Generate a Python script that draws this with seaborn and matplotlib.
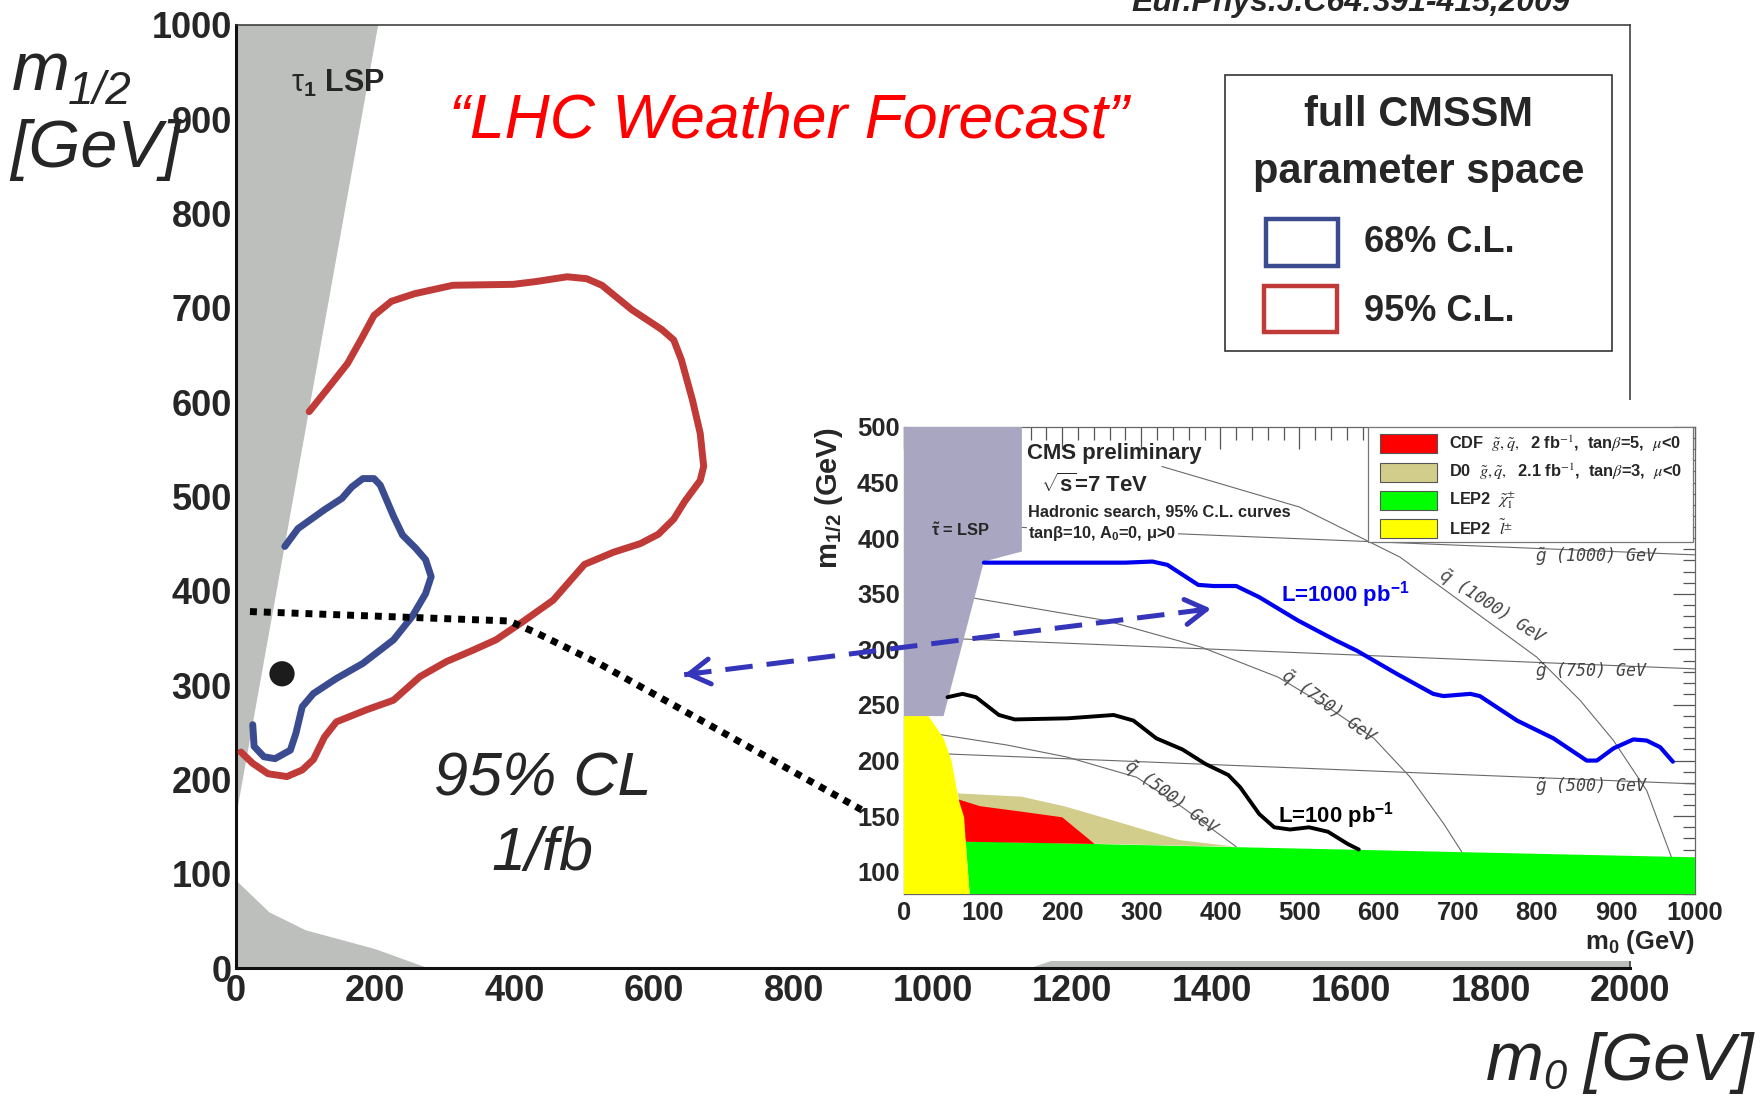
import matplotlib
matplotlib.use("Agg")
import matplotlib.pyplot as plt
import seaborn as sns
from matplotlib import font_manager as fm
from matplotlib.patches import Rectangle, FancyArrowPatch
from matplotlib.lines import Line2D
from matplotlib.ticker import MultipleLocator

# ================= DATA =================
# ---- main plot: (m0, m1/2) in GeV ----
main_xticks = [0, 200, 400, 600, 800, 1000, 1200, 1400, 1600, 1800, 2000]
main_yticks = [0, 100, 200, 300, 400, 500, 600, 700, 800, 900, 1000]

cl95_m0 = [7, 24, 46, 73, 95, 111, 127, 144, 188, 226, 264, 302, 340, 373, 411, 455,
           500, 542, 580, 606, 628, 644, 666, 671, 666, 655, 639, 628, 611, 568, 525,
           503, 475, 431, 398, 311, 256, 223, 198, 179, 160, 130, 105]
cl95_m12 = [229, 217, 206, 203, 210, 221, 245, 261, 274, 284, 309, 325, 337, 348, 367, 390,
            428, 441, 450, 460, 476, 495, 517, 532, 567, 602, 645, 666, 677, 698, 724,
            731, 733, 728, 725, 724, 715, 707, 692, 666, 641, 613, 590]

cl68_m0 = [24, 26, 40, 56, 78, 86, 95, 111, 144, 182, 226, 253, 272, 280, 272, 258,
           239, 226, 207, 198, 182, 166, 152, 127, 89, 70]
cl68_m12 = [258, 235, 224, 222, 231, 249, 277, 291, 307, 323, 348, 373, 397, 415, 433, 445,
            459, 479, 512, 519, 519, 510, 498, 486, 466, 447]

stau_m0 = [0, 204, 0]
stau_m12 = [160, 1000, 1000]
noewsb_m0 = [0, 0, 48, 100, 200, 275]
noewsb_m12 = [0, 93, 59, 40, 20, 0]
noewsb2_m0 = [1140, 1200, 2000, 2000]
noewsb2_m12 = [0, 15, 15, 0]

bestfit_m0 = [66]
bestfit_m12 = [312]

link_m0 = [20, 392, 432, 523, 897]
link_m12 = [378, 368, 355, 322, 168]
arrow_m0 = [643, 1399]
arrow_m12 = [311, 381]

main_legend_labels = ["68% C.L.", "95% C.L."]

# ---- inset (CMS 7 TeV reach) ----
inset_xticks = [0, 100, 200, 300, 400, 500, 600, 700, 800, 900, 1000]
inset_yticks = [100, 150, 200, 250, 300, 350, 400, 450, 500]

in_stau_m0 = [0, 149, 149, 101, 50, 0]
in_stau_m12 = [500, 500, 388, 379, 240, 240]
slep_m0 = [0, 0, 31, 50, 60, 69, 76, 78, 83]
slep_m12 = [80, 240, 240, 220, 200, 165, 149, 127, 80]
cha_m0 = [78, 1000, 1000, 83]
cha_m12 = [127.5, 113, 80, 80]
cdf_m0 = [69, 96, 149, 200, 241, 78]
cdf_m12 = [165, 159, 154, 149, 125, 127]
d0_m0 = [68, 149, 202, 241, 348, 420, 78]
d0_m12 = [170.5, 167.5, 159, 151, 128.5, 122.5, 127.5]

L1000_m0 = [101, 180, 280, 314, 333, 372, 391, 420, 449, 498, 546, 572, 623, 669, 682,
            716, 728, 775, 821, 863, 876, 897, 922, 939, 956, 972]
L1000_m12 = [378, 378, 378, 379, 376, 358, 357, 357, 347, 326, 308, 299, 278, 260, 258,
             260, 258, 236, 220, 200, 200, 211, 219, 218, 212, 199]
L100_m0 = [55, 74, 91, 120, 140, 207, 265, 290, 319, 352, 381, 410, 425, 449, 468, 488,
           512, 536, 561, 575]
L100_m12 = [257, 260, 257, 241, 237, 238, 241, 236, 220, 210, 197, 187, 176, 152, 140, 138,
            140, 136, 125, 120]

gl500_m0, gl500_m12 = [0, 1000], [207.5, 179]
gl750_m0, gl750_m12 = [0, 1000], [311.5, 282.5]
gl1000_m0, gl1000_m12 = [0, 1000], [414, 385]
sq500_m0 = [40, 130, 207, 294, 352, 420]
sq500_m12 = [224, 214, 203, 185, 158, 122.5]
sq750_m0 = [89, 255, 376, 473, 536, 594, 640, 682, 705]
sq750_m12 = [346, 326, 302, 275, 248, 220, 185, 143.5, 118]
sq1000_m0 = [326, 500, 627, 800, 855, 897, 939, 970]
sq1000_m12 = [464.5, 428, 383, 293, 254, 218, 173, 113.5]

inset_legend_labels = [
    r"CDF  $\tilde{g},\tilde{q},$  2 fb$^{-1}$,  tan$\beta$=5,  $\mu$<0",
    r"D0  $\tilde{g},\tilde{q},$  2.1 fb$^{-1}$,  tan$\beta$=3,  $\mu$<0",
    r"LEP2  $\tilde{\chi}^{\pm}_{1}$",
    r"LEP2  $\tilde{l}^{\pm}$",
]

# ================= STYLE =================
sns.set_theme(style="white")
avail = {f.name for f in fm.fontManager.ttflist}
SANS = "Liberation Sans"
NARROW = "Liberation Sans Narrow" if "Liberation Sans Narrow" in avail else SANS
NK = 1.0 if NARROW != SANS else 0.84
plt.rcParams.update({
    "font.family": [SANS, "DejaVu Sans"],
    "mathtext.fontset": "custom",
    "mathtext.rm": SANS,
    "mathtext.it": SANS + ":italic",
    "mathtext.bf": SANS + ":bold",
    "axes.unicode_minus": False,
})

GRAY = "#bdbfbc"
RED95 = "#c03a38"
BLUE68 = "#3a4c8f"
PURPLE = "#a8a6c0"
ARROW = "#3535bb"
LINEG = "#6a6a6a"

W, H = 1765, 1097
fig = plt.figure(figsize=(W / 100, H / 100), dpi=100, facecolor="white")


def fbox(x0, y0, x1, y1):
    return [x0 / W, 1 - y1 / H, (x1 - x0) / W, (y1 - y0) / H]


# ================= MAIN AXES =================
ax = fig.add_axes(fbox(236, 25, 1630, 968), zorder=0)
ax.set_facecolor("white")
ax.set_xlim(0, 2000)
ax.set_ylim(0, 1000)
ax.set_axisbelow(False)

ax.fill(stau_m0, stau_m12, color=GRAY, lw=0, zorder=1)
ax.fill(noewsb_m0, noewsb_m12, color=GRAY, lw=0, zorder=1)
ax.fill(noewsb2_m0, noewsb2_m12, color=GRAY, lw=0, zorder=1)

sns.lineplot(x=cl95_m0, y=cl95_m12, sort=False, estimator=None, color=RED95,
             lw=5, ax=ax, zorder=3, solid_capstyle="round", solid_joinstyle="round")
sns.lineplot(x=cl68_m0, y=cl68_m12, sort=False, estimator=None, color=BLUE68,
             lw=5, ax=ax, zorder=3, solid_capstyle="round", solid_joinstyle="round")
sns.scatterplot(x=bestfit_m0, y=bestfit_m12, s=330, color="#1c1c1c", edgecolor="none",
                ax=ax, zorder=4)

ax.set_xticks(main_xticks)
ax.set_xticklabels([str(v) for v in main_xticks])
ax.set_yticks(main_yticks)
ax.set_yticklabels([str(v) for v in main_yticks])
ax.xaxis.set_minor_locator(MultipleLocator(50))
ax.yaxis.set_minor_locator(MultipleLocator(20))
ax.tick_params(which="both", direction="in", top=False, right=False, color="#222", width=1.6)
ax.tick_params(axis="x", which="major", length=20, pad=4, labelsize=26)
ax.tick_params(axis="x", which="minor", length=10)
ax.tick_params(axis="y", which="major", length=30, pad=3, labelsize=26)
ax.tick_params(axis="y", which="minor", length=15)
for lab in ax.get_xticklabels() + ax.get_yticklabels():
    lab.set_fontweight("bold")
for s in ["left", "bottom"]:
    ax.spines[s].set_linewidth(2.2)
    ax.spines[s].set_color("#111")
for s in ["top", "right"]:
    ax.spines[s].set_linewidth(1.1)
    ax.spines[s].set_color("#333")
ax.set_xlabel("")
ax.set_ylabel("")

ax.text(79, 929, r"$\mathrm{\tau}_{\mathbf{1}}$ LSP", fontsize=22, fontweight="bold",
        va="baseline", ha="left", zorder=5)
ax.text(306, 881, "\u201cLHC Weather Forecast\u201d", color="#ff0000", fontsize=45,
        style="italic", va="baseline", ha="left", zorder=5)
ax.text(440, 183, "95% CL", fontsize=44, style="italic", ha="center", va="baseline", zorder=5)
ax.text(440, 104, "1/fb", fontsize=44, style="italic", ha="center", va="baseline", zorder=5)

# main legend box
tA = ax.transAxes
ax.add_patch(Rectangle((0.7095, 0.654), 0.2775, 0.293, transform=tA, facecolor="white",
                       edgecolor="#333", lw=1.2, zorder=6))
ax.text(0.8483, 0.9046, "full CMSSM", transform=tA, fontsize=30, fontweight="bold",
        ha="center", va="center", zorder=7)
ax.text(0.8483, 0.8444, "parameter space", transform=tA, fontsize=30, fontweight="bold",
        ha="center", va="center", zorder=7)
ax.add_patch(Rectangle((0.7389, 0.7444), 0.0516, 0.0499, transform=tA, facecolor="white",
                       edgecolor=BLUE68, lw=3.2, zorder=7))
ax.add_patch(Rectangle((0.7375, 0.6744), 0.0523, 0.0488, transform=tA, facecolor="white",
                       edgecolor=RED95, lw=3.2, zorder=7))
ax.text(0.809, 0.7696, main_legend_labels[0], transform=tA, fontsize=26, fontweight="bold",
        ha="left", va="center", zorder=7)
ax.text(0.809, 0.696, main_legend_labels[1], transform=tA, fontsize=26, fontweight="bold",
        ha="left", va="center", zorder=7)

# figure-level axis titles (italic, with italic subscripts)
it = dict(style="italic", va="baseline")
fig.text(12 / W, 1 - 90 / H, "m", fontsize=50, ha="left", **it)
fig.text(68 / W, 1 - 104 / H, "1/2", fontsize=33, ha="left", **it)
fig.text(10 / W, 1 - 167 / H, "[GeV]", fontsize=48, ha="left", **it)
fig.text(1486 / W, 1 - 1080 / H, "m", fontsize=50, ha="left", **it)
fig.text(1543 / W, 1 - 1089 / H, "0", fontsize=30, ha="left", **it)
fig.text(1754 / W, 1 - 1080 / H, "[GeV]", fontsize=48, ha="right", **it)
fig.text(1131 / W, 1 - 11 / H, "Eur.Phys.J.C64:391-415,2009", fontsize=23,
         fontweight="bold", style="italic", ha="left", va="baseline")

# white backdrop of the inset picture
fig.add_artist(Rectangle((808 / W, 1 - 961 / H), (1700 - 808) / W, (961 - 400) / H,
                         transform=fig.transFigure, facecolor="white", edgecolor="none",
                         zorder=1))

# ================= INSET =================
ai = fig.add_axes(fbox(904, 427, 1695, 894), zorder=2)
ai.set_facecolor("white")
ai.set_xlim(0, 1000)
ai.set_ylim(80, 500)
ai.set_axisbelow(True)

ai.fill(cha_m0, cha_m12, color="#00ff00", lw=0, zorder=2.6)
ai.fill(d0_m0, d0_m12, color="#d3cd8b", lw=0, zorder=2.6)
ai.fill(cdf_m0, cdf_m12, color="#ff0000", lw=0, zorder=2.6)

for xs, ys in [(gl500_m0, gl500_m12), (gl750_m0, gl750_m12), (gl1000_m0, gl1000_m12),
               (sq500_m0, sq500_m12), (sq750_m0, sq750_m12), (sq1000_m0, sq1000_m12)]:
    sns.lineplot(x=xs, y=ys, sort=False, estimator=None, color=LINEG, lw=0.8, ax=ai, zorder=2.7)

ai.fill(slep_m0, slep_m12, color="#ffff00", lw=0, zorder=3)
ai.fill(in_stau_m0, in_stau_m12, color=PURPLE, lw=0, zorder=3)

sns.lineplot(x=L1000_m0, y=L1000_m12, sort=False, estimator=None, color="#0000ee", lw=3,
             ax=ai, zorder=4, solid_joinstyle="round")
sns.lineplot(x=L100_m0, y=L100_m12, sort=False, estimator=None, color="black", lw=2.8,
             ax=ai, zorder=4, solid_joinstyle="round")

ai.set_xticks(inset_xticks)
ai.set_xticklabels([str(v) for v in inset_xticks])
ai.set_yticks(inset_yticks)
ai.set_yticklabels([str(v) for v in inset_yticks])
ai.xaxis.set_minor_locator(MultipleLocator(20))
ai.yaxis.set_minor_locator(MultipleLocator(10))
ai.tick_params(which="both", direction="in", top=True, right=True, color="#555", width=0.9)
ai.tick_params(which="major", length=16)
ai.tick_params(which="minor", length=9)
ai.tick_params(axis="x", which="major", pad=5, labelsize=22 * NK)
ai.tick_params(axis="y", which="major", pad=3, labelsize=22 * NK)
for lab in ai.get_xticklabels() + ai.get_yticklabels():
    lab.set_fontweight("bold")
    lab.set_family(NARROW)
for s in ai.spines.values():
    s.set_linewidth(0.9)
    s.set_color("#666")

ai.set_ylabel(r"$\mathbf{m_{1/2}}$ (GeV)", fontsize=25 * NK, fontweight="bold",
              family=NARROW, loc="top")
ai.yaxis.set_label_coords(-0.075, 1.0)
ai.set_xlabel(r"$\mathbf{m_{0}}$ (GeV)", fontsize=22 * NK, fontweight="bold",
              family=NARROW, loc="right")
ai.xaxis.set_label_coords(1.0, -0.073)

tk = dict(fontweight="bold", family=NARROW, ha="left", va="center", zorder=6)
ai.text(155, 476, "CMS preliminary", fontsize=19 * NK, **tk)
ai.text(173, 447.5, r"$\sqrt{\mathbf{s}}$=7 TeV", fontsize=19 * NK, **tk)
ai.text(157, 424, "Hadronic search, 95% C.L. curves", fontsize=14 * NK, **tk)
ai.text(157, 404, r"tan$\mathbf{\beta}$=10, A$_{\mathbf{0}}$=0, $\mathbf{\mu}$>0",
        fontsize=14 * NK, bbox=dict(facecolor="white", edgecolor="none", pad=1), **tk)
ai.text(34.5, 407, r"$\mathbf{\tilde{\tau}}$ = LSP", fontsize=14 * NK, **tk)
ai.text(476, 349, r"L=1000 pb$^{\mathbf{-1}}$", fontsize=19 * NK, color="#0000ee", **tk)
ai.text(473, 151, r"L=100 pb$^{\mathbf{-1}}$", fontsize=19 * NK, color="black", **tk)

gk = dict(fontsize=12, color="#444", family="DejaVu Sans Mono", style="oblique",
          math_fontfamily="dejavusans", zorder=5)
ai.text(798, 383, r"$\tilde{g}$ (1000) GeV", ha="left", va="center", **gk)
ai.text(798, 280, r"$\tilde{g}$ (750) GeV", ha="left", va="center", **gk)
ai.text(798, 176, r"$\tilde{g}$ (500) GeV", ha="left", va="center", **gk)
ai.text(743, 338, r"$\tilde{q}$ (1000) GeV", ha="center", va="center", rotation=-33,
        rotation_mode="anchor", **gk)
ai.text(536, 248, r"$\tilde{q}$ (750) GeV", ha="center", va="center", rotation=-36,
        rotation_mode="anchor", **gk)
ai.text(338, 166, r"$\tilde{q}$ (500) GeV", ha="center", va="center", rotation=-37,
        rotation_mode="anchor", **gk)

# inset legend
tI = ai.transAxes
ai.add_patch(Rectangle((0.586, 0.754), 0.411, 0.246, transform=tI, facecolor="white",
                       edgecolor="#777", lw=0.9, zorder=5))
sw_colors = ["#ff0000", "#d3cd8b", "#00ff00", "#ffff00"]
sw_y = [0.964, 0.903, 0.843, 0.783]
for c, yc, lab in zip(sw_colors, sw_y, inset_legend_labels):
    ai.add_patch(Rectangle((0.602, yc - 0.0204), 0.0716, 0.0407, transform=tI, facecolor=c,
                           edgecolor="#555", lw=0.8, zorder=6))
    ai.text(0.689, yc, lab, transform=tI, fontsize=14 * NK, fontweight="bold", family=NARROW,
            math_fontfamily="stix", ha="left", va="center", zorder=6)

# ================= OVERLAY (link line and arrow) =================
fig.add_artist(Line2D(link_m0, link_m12, transform=ax.transData, color="black", lw=5,
                      ls=(0, (1, 1)), dash_capstyle="butt", zorder=10))
fig.add_artist(Line2D(arrow_m0, arrow_m12, transform=ax.transData, color=ARROW, lw=3.6,
                      ls=(0, (5.5, 2.8)), dash_capstyle="butt", zorder=10))
for i, j in [(0, 1), (1, 0)]:
    tip = (arrow_m0[i], arrow_m12[i])
    back = (arrow_m0[i] + 0.03 * (arrow_m0[j] - arrow_m0[i]),
            arrow_m12[i] + 0.03 * (arrow_m12[j] - arrow_m12[i]))
    fig.add_artist(FancyArrowPatch(back, tip, transform=ax.transData,
                                   arrowstyle="->,head_length=0.75,head_width=0.45",
                                   mutation_scale=20, lw=3.6, color=ARROW,
                                   shrinkA=0, shrinkB=0, zorder=10))

fig.savefig("out.png", dpi=100, facecolor="white")
